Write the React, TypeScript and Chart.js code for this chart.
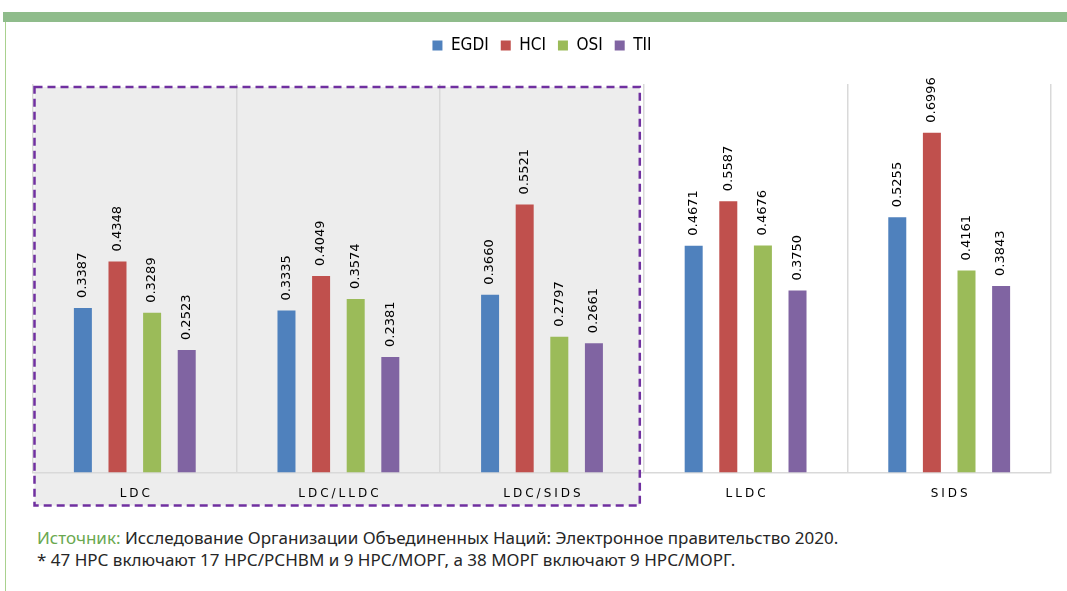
import React, { useEffect, useRef } from "react";
import { Chart, registerables } from "chart.js";

Chart.register(...registerables);

const categories = ["LDC", "LDC/LLDC", "LDC/SIDS", "LLDC", "SIDS"];
const seriesNames = ["EGDI", "HCI", "OSI", "TII"];
const egdi = [0.3387, 0.3335, 0.366, 0.4671, 0.5255];
const hci = [0.4348, 0.4049, 0.5521, 0.5587, 0.6996];
const osi = [0.3289, 0.3574, 0.2797, 0.4676, 0.4161];
const tii = [0.2523, 0.2381, 0.2661, 0.375, 0.3843];
const colors = ["#4f81bd", "#c0504d", "#9bbb59", "#8064a2"];
const highlightedCount = 3;

const legendMarginPlugin = {
  id: "legendMargin",
  beforeInit(chart: any) {
    const legend = chart.legend;
    if (!legend) return;
    const orig = legend.fit;
    legend.fit = function () {
      orig.call(this);
      this.height += 20;
    };
  },
};

const valueLabelPlugin = {
  id: "valueLabels",
  afterDatasetsDraw(chart: any) {
    const ctx = chart.ctx;
    ctx.save();
    ctx.font = "13px 'DejaVu Sans', sans-serif";
    ctx.fillStyle = "#000";
    ctx.textAlign = "left";
    ctx.textBaseline = "middle";
    chart.data.datasets.forEach((ds: any, di: number) => {
      const meta = chart.getDatasetMeta(di);
      meta.data.forEach((bar: any, i: number) => {
        const v = ds.data[i] as number;
        ctx.save();
        ctx.translate(bar.x, bar.y - 10);
        ctx.rotate(-Math.PI / 2);
        ctx.fillText(v.toFixed(4), 0, 0);
        ctx.restore();
      });
    });
    ctx.restore();
  },
};

function boxBounds(chart: any) {
  const x = chart.scales.x;
  const area = chart.chartArea;
  const half = (x.getPixelForValue(1) - x.getPixelForValue(0)) / 2;
  return {
    left: x.getPixelForValue(0) - half + 1.5,
    right: x.getPixelForValue(highlightedCount - 1) + half - 4,
    top: area.top + 3,
    bottom: area.bottom + 33,
  };
}

const highlightPlugin = {
  id: "highlightBox",
  beforeDraw(chart: any) {
    const b = boxBounds(chart);
    const ctx = chart.ctx;
    ctx.save();
    ctx.fillStyle = "#ededed";
    ctx.fillRect(b.left, b.top, b.right - b.left, b.bottom - b.top);
    ctx.restore();
  },
  afterDraw(chart: any) {
    const b = boxBounds(chart);
    const ctx = chart.ctx;
    ctx.save();
    ctx.strokeStyle = "#7030a0";
    ctx.lineWidth = 2.5;
    ctx.setLineDash([8, 5]);
    ctx.strokeRect(b.left, b.top, b.right - b.left, b.bottom - b.top);
    ctx.restore();
  },
};

export default function App() {
  const ref = useRef<HTMLCanvasElement | null>(null);
  useEffect(() => {
    if (!ref.current) return;
    const series = [egdi, hci, osi, tii];
    const chart = new Chart(ref.current, {
      type: "bar",
      data: {
        labels: categories,
        datasets: series.map((d, i) => ({
          label: seriesNames[i],
          data: d,
          backgroundColor: colors[i],
          categoryPercentage: 0.68,
          barPercentage: 0.52,
        })),
      },
      plugins: [legendMarginPlugin, highlightPlugin, valueLabelPlugin],
      options: {
        animation: false,
        responsive: false,
        maintainAspectRatio: false,
        layout: { padding: { left: 33, right: 16, top: 25, bottom: 0 } },
        plugins: {
          legend: {
            position: "top",
            labels: {
              boxWidth: 10,
              boxHeight: 10,
              padding: 12,
              color: "#000",
              font: { size: 17, family: "'Liberation Sans Narrow', 'DejaVu Sans Condensed', sans-serif" },
            },
          },
          tooltip: { enabled: false },
        },
        scales: {
          x: {
            grid: { display: true, offset: true, color: "#d9d9d9", lineWidth: 1.5, drawTicks: false },
            border: { display: true, color: "#d9d9d9", width: 1.5 },
            ticks: {
              color: "#000",
              padding: 14,
              font: { size: 12, family: "'DejaVu Sans', sans-serif" },
              callback: (_v: any, i: number) => categories[i].split("").join("\u2005"),
            },
          },
          y: {
            display: false,
            min: 0,
            max: 0.8,
          },
        },
      },
    });
    return () => chart.destroy();
  }, []);

  return (
    <div style={{ position: "absolute", left: 0, top: 0, width: 1067, height: 591, background: "#fff", overflow: "hidden" }}>
      <div style={{ position: "absolute", left: 3, top: 12, width: 1064, height: 10, background: "#8fbc8b" }} />
      <div style={{ position: "absolute", left: 5, top: 22, width: 1, height: 569, background: "#a9d18e" }} />
      <canvas ref={ref} width={1067} height={515} style={{ position: "absolute", left: 0, top: 0, width: 1067, height: 515 }} />
      <div
        style={{
          position: "absolute",
          left: 37,
          top: 527,
          fontFamily: "'Noto Sans', sans-serif",
          fontSize: 17,
          lineHeight: "22px",
          color: "#262626",
          whiteSpace: "nowrap",
        }}
      >
        <div>
          <span style={{ color: "#6aa84f" }}>Источник:</span> Исследование Организации Объединенных Наций: Электронное правительство 2020.
        </div>
        <div>* 47 НРС включают 17 НРС/РСНВМ и 9 НРС/МОРГ, а 38 МОРГ включают 9 НРС/МОРГ.</div>
      </div>
    </div>
  );
}
